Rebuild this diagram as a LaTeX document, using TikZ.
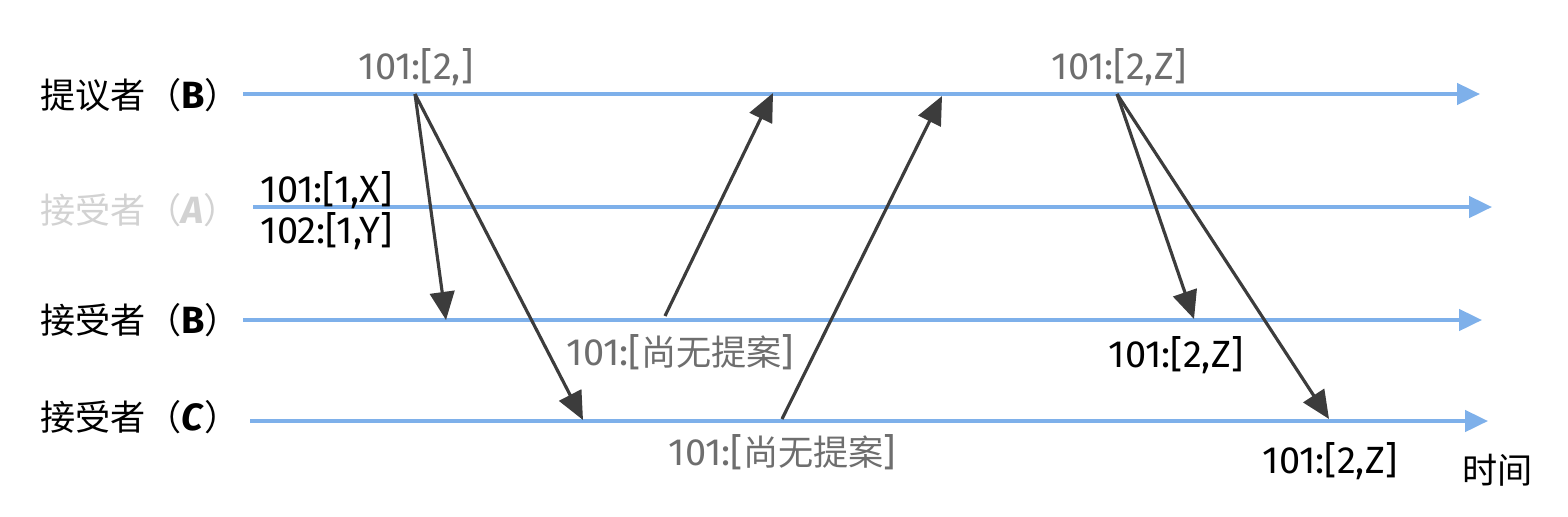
\documentclass[tikz,border=0pt]{standalone}
\usepackage{fontspec}
\setmainfont{Fira Sans}[Scale=1.08]
\newfontfamily\cjk{Noto Sans CJK SC}
\usetikzlibrary{arrows.meta}

\definecolor{laneblue}{HTML}{7EB0EA}
\definecolor{msggray}{HTML}{3C3C3C}
\definecolor{notegray}{HTML}{6E6E6E}
\definecolor{faintgray}{HTML}{D2D2D2}

\tikzset{
  lane/.style={draw=laneblue,line width=1.1pt,-{Triangle[length=6.5pt,width=6pt]}},
  msg/.style={draw=msggray,line width=0.9pt,-{Triangle[length=8pt,width=7pt]}},
  who/.style={anchor=west,inner sep=0pt,font=\fontsize{10}{12}\selectfont},
  val/.style={inner sep=0pt,font=\fontsize{10}{12}\selectfont},
}

\begin{document}
\begin{tikzpicture}
  \useasboundingbox (0,0) rectangle (15.68,-5.16);
  % participants
  \node[who] (tPB) at (0.40,-0.95) {{\cjk 提议者（}\textbf{B}{\cjk ）}};
  \node[who,text=faintgray] (tAA) at (0.40,-2.10) {{\cjk 接受者（}\textbf{\textit{A}}{\cjk ）}};
  \node[who] (tAB) at (0.40,-3.20) {{\cjk 接受者（}\textbf{B}{\cjk ）}};
  \node[who] (tAC) at (0.40,-4.17) {{\cjk 接受者（}\textbf{\textit{C}}{\cjk ）}};
  % time lines
  \coordinate (sPB) at (2.43,-0.94);  \coordinate (ePB) at (14.80,-0.94);
  \coordinate (sAA) at (2.53,-2.07);  \coordinate (eAA) at (14.92,-2.07);
  \coordinate (sAB) at (2.43,-3.20);  \coordinate (eAB) at (14.82,-3.20);
  \coordinate (sAC) at (2.50,-4.21);  \coordinate (eAC) at (14.88,-4.21);
  \draw[lane] (sPB) -- (ePB);
  \draw[lane] (sAA) -- (eAA);
  \draw[lane] (sAB) -- (eAB);
  \draw[lane] (sAC) -- (eAC);
  % events
  \coordinate (prep1) at (4.15,-0.94);
  \coordinate (recvB1) at (4.46,-3.20);
  \coordinate (recvC1) at (5.83,-4.20);
  \coordinate (ackB1) at (6.65,-3.16);
  \coordinate (gotB1) at (7.73,-0.93);
  \coordinate (ackC1) at (7.82,-4.19);
  \coordinate (gotC1) at (9.42,-0.96);
  \coordinate (prep2) at (11.17,-0.94);
  \coordinate (recvB2) at (11.94,-3.19);
  \coordinate (recvC2) at (13.29,-4.19);
  \draw[msg] (prep1) -- (recvB1);
  \draw[msg] (prep1) -- (recvC1);
  \draw[msg] (ackB1) -- (gotB1);
  \draw[msg] (ackC1) -- (gotC1);
  \draw[msg] (prep2) -- (recvB2);
  \draw[msg] (prep2) -- (recvC2);
  % values
  \node[val,text=notegray] (v1) at (4.16,-0.67) {101:[2,]};
  \node[val,text=notegray] (v2) at (11.19,-0.67) {101:[2,Z]};
  \node[val,anchor=west] (v3) at (2.60,-1.90) {101:[1,X]};
  \node[val,anchor=west] (v4) at (2.60,-2.31) {102:[1,Y]};
  \node[val,anchor=west,text=notegray] (v5) at (5.66,-3.52) {101:[{\cjk 尚无提案}]};
  \node[val,anchor=west,text=notegray] (v6) at (6.68,-4.52) {101:[{\cjk 尚无提案}]};
  \node[val,anchor=west] (v7) at (11.08,-3.55) {101:[2,Z]};
  \node[val,anchor=west] (v8) at (12.62,-4.61) {101:[2,Z]};
  \node[val,anchor=west] (tTime) at (14.62,-4.70) {\cjk 时间};
\end{tikzpicture}
\end{document}
